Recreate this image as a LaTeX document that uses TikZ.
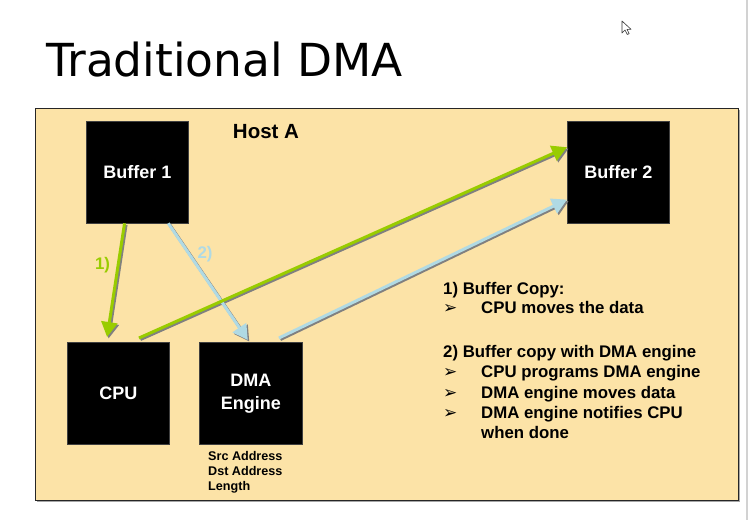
\documentclass[tikz,border=0pt]{standalone}
\usepackage{fontspec}
\setmainfont{Liberation Sans}
\newfontfamily\titlefont{DejaVu Sans}
\newfontfamily\symfont{DejaVu Sans}
\usetikzlibrary{arrows.meta,calc}
\definecolor{hostfill}{RGB}{252,227,167}
\definecolor{arrgreen}{RGB}{153,204,0}
\definecolor{arrblue}{RGB}{176,218,228}
\definecolor{shadowgray}{RGB}{128,128,128}
\definecolor{edgegray}{RGB}{210,210,210}
\tikzset{
  blackbox/.style={fill=black, draw=black!75, line width=0.8pt, minimum width=102pt, minimum height=102pt,
    anchor=north west, inner sep=0pt, text=white, align=center,
    font=\bfseries\fontsize{18}{23}\selectfont},
  arr/.style={line width=3pt, -{Triangle[length=15pt,width=16pt]}},
  shd/.style={arr, draw=shadowgray, transform canvas={shift={(1.5pt,-1.5pt)}}},
  listline/.style={anchor=base west, inner sep=0pt, font=\bfseries\fontsize{16.8}{20}\selectfont},
  bullet/.style={anchor=base west, inner sep=0pt, font=\symfont\fontsize{17}{18}\selectfont},
}
\begin{document}
\begin{tikzpicture}[x=1pt,y=-1pt]
\useasboundingbox (0,0) rectangle (749,520);
\fill[white] (0,0) rectangle (749,520);
% right page edge
\draw[edgegray, line width=1.5pt] (747,0) -- (747,520);
% cursor
\draw[fill=white, draw=black!80, line width=0.6pt, line join=round]
  (622,21) -- (622,33) -- (625,30) -- (627.3,34.5) -- (629.2,33.6) -- (627,29.3) -- (631,29.3) -- cycle;
% title
\node[anchor=base west, inner sep=0pt, font=\titlefont\fontsize{45.5}{50}\selectfont] (title) at (46,76) {Traditional DMA};
% host box
\fill[shadowgray!70] (36.5,109.5) rectangle (739.5,501.5);
\node[draw=black!85, fill=hostfill, line width=1pt, anchor=north west, minimum width=703pt, minimum height=392pt, inner sep=0pt] (host) at (35,108) {};
\node[font=\bfseries\fontsize{20.5}{24}\selectfont, inner sep=0pt] (hostlabel) at (266,132) {Host A};
% black boxes
\node[blackbox] (b1) at (86,120.5) {Buffer 1};
\node[blackbox] (b2) at (567,121) {Buffer 2};
\node[blackbox] (cpu) at (67,342) {CPU};
\node[blackbox, minimum width=103pt] (dma) at (199,342) {DMA\\Engine};
% dma registers
\node[anchor=north west, inner sep=0pt, align=left, font=\bfseries\fontsize{12.6}{15}\selectfont] (regs) at (208,451.3) {Src Address\\Dst Address\\Length};
% arrows
\coordinate (g1s) at ($(b1.south west)!0.375!(b1.south east)$);
\coordinate (g1e) at ($(cpu.north west)!0.39!(cpu.north east)+(0,-5)$);
\coordinate (b2s) at ($(b1.south west)!0.80!(b1.south east)$);
\coordinate (b2e) at ($(dma.north west)!0.47!(dma.north east)+(0,-2)$);
\coordinate (g2s) at ($(cpu.north west)!0.70!(cpu.north east)+(0,-4)$);
\coordinate (g2e) at ($(b2.north west)!0.255!(b2.south west)$);
\coordinate (b3s) at ($(dma.north west)!0.77!(dma.north east)+(0,-4)$);
\coordinate (b3e) at ($(b2.north west)!0.765!(b2.south west)$);
\draw[shd] (g1s) -- (g1e);
\draw[shd] (b2s) -- (b2e);
\draw[shd] (g2s) -- (g2e);
\draw[shd] (b3s) -- (b3e);
\draw[arr, arrgreen] (g1s) -- (g1e);
\draw[arr, arrblue] (b2s) -- (b2e);
\draw[arr, arrgreen] (g2s) -- (g2e);
\draw[arr, arrblue] (b3s) -- (b3e);
\node[text=arrgreen, font=\bfseries\fontsize{16.8}{20}\selectfont, inner sep=0pt] (l1) at (102.5,265) {1)};
\node[text=arrblue, font=\bfseries\fontsize{16.8}{20}\selectfont, inner sep=0pt] (l2) at (205,254) {2)};
% list
\node[listline] (t1) at (443,294) {1) Buffer Copy:};
\node[bullet] (p1) at (443,313) {➢};
\node[listline] (t2) at (481,313) {CPU moves the data};
\node[listline] (t3) at (443,357) {2) Buffer copy with DMA engine};
\node[bullet] (p2) at (443,377) {➢};
\node[listline] (t4) at (481,377) {CPU programs DMA engine};
\node[bullet] (p3) at (443,398) {➢};
\node[listline] (t5) at (481,398) {DMA engine moves data};
\node[bullet] (p4) at (443,418) {➢};
\node[listline] (t6) at (481,418) {DMA engine notifies CPU};
\node[listline] (t7) at (481,438) {when done};
\end{tikzpicture}
\end{document}
